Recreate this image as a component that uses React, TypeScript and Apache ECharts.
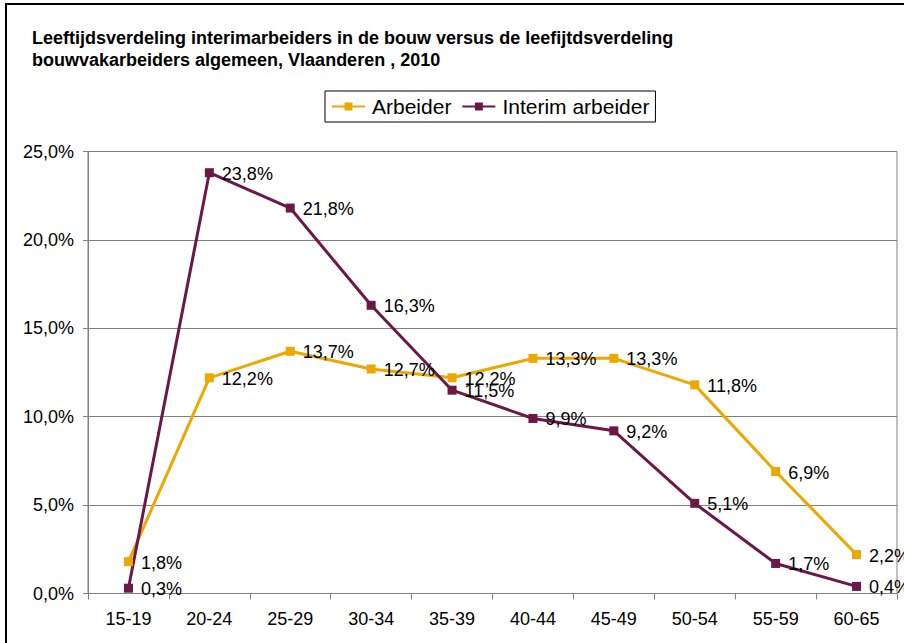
import React, { useEffect, useRef } from "react";
import * as echarts from "echarts";

const categories = ["15-19", "20-24", "25-29", "30-34", "35-39", "40-44", "45-49", "50-54", "55-59", "60-65"];
const arbeider = [1.8, 12.2, 13.7, 12.7, 12.2, 13.3, 13.3, 11.8, 6.9, 2.2];
const interim = [0.3, 23.8, 21.8, 16.3, 11.5, 9.9, 9.2, 5.1, 1.7, 0.4];
const titleLines = [
  "Leeftijdsverdeling interimarbeiders in de bouw versus de leefijtdsverdeling",
  "bouwvakarbeiders algemeen, Vlaanderen , 2010",
];

const FONT = "'Liberation Sans', Arial, sans-serif";
const fmt = (v: number) => v.toFixed(1).replace(".", ",") + "%";

export default function App() {
  const ref = useRef<HTMLDivElement>(null);
  useEffect(() => {
    if (!ref.current) return;
    const chart = echarts.init(ref.current, null, { renderer: "svg" });
    const label = {
      show: true,
      position: "right",
      distance: 8,
      offset: [0, 1],
      color: "#000",
      fontSize: 18,
      fontFamily: FONT,
      formatter: (p: any) => fmt(p.value),
    };
    chart.setOption({
      animation: false,
      backgroundColor: "#fff",
      textStyle: { fontFamily: FONT },
      title: {
        text: titleLines.join("\n"),
        left: 32,
        top: 27,
        padding: 0,
        textStyle: { fontSize: 18, fontWeight: "bold", color: "#000", lineHeight: 22, fontFamily: FONT },
      },
      legend: {
        left: 325,
        top: 91,
        padding: [5, 6],
        itemGap: 10,
        itemWidth: 33,
        itemHeight: 10,
        borderColor: "#000",
        borderWidth: 1,
        textStyle: { fontSize: 21, color: "#000", fontFamily: FONT, padding: [0, 0, 0, 2] },
        data: ["Arbeider", "Interim arbeider"],
      },
      graphic: [
        {
          type: "rect",
          shape: { x: 6, y: 4, width: 1000, height: 800 },
          style: { fill: "none", stroke: "#000", lineWidth: 2 },
          silent: true,
        },
      ],
      grid: {
        left: 88,
        right: 7,
        top: 151.5,
        bottom: 49.5,
        show: true,
        borderColor: "#808080",
        borderWidth: 1,
        containLabel: false,
      },
      xAxis: {
        type: "category",
        data: categories,
        boundaryGap: true,
        axisLine: { lineStyle: { color: "#808080", width: 1 } },
        axisTick: { show: true, length: 6, lineStyle: { color: "#808080" } },
        axisLabel: { color: "#000", fontSize: 18, margin: 16, fontFamily: FONT },
        splitLine: { show: false },
      },
      yAxis: {
        type: "value",
        min: 0,
        max: 25,
        interval: 5,
        axisLine: { show: true, lineStyle: { color: "#808080", width: 1 } },
        axisTick: { show: true, length: 5, lineStyle: { color: "#808080" } },
        axisLabel: { color: "#000", fontSize: 18, margin: 14, fontFamily: FONT, formatter: (v: number) => fmt(v) },
        splitLine: { show: true, lineStyle: { color: "#808080", width: 1 } },
      },
      series: [
        {
          name: "Arbeider",
          type: "line",
          data: arbeider,
          color: "#EBA800",
          symbol: "rect",
          symbolSize: 9,
          lineStyle: { width: 3, color: "#EBA800" },
          itemStyle: { color: "#EBA800" },
          label,
        },
        {
          name: "Interim arbeider",
          type: "line",
          data: interim,
          color: "#6B1848",
          symbol: "rect",
          symbolSize: 9,
          lineStyle: { width: 3, color: "#6B1848" },
          itemStyle: { color: "#6B1848" },
          label,
        },
      ],
    });
    return () => chart.dispose();
  }, []);
  return (
    <div
      ref={ref}
      style={{ position: "fixed", left: 0, top: 0, width: 904, height: 643 }}
    />
  );
}
